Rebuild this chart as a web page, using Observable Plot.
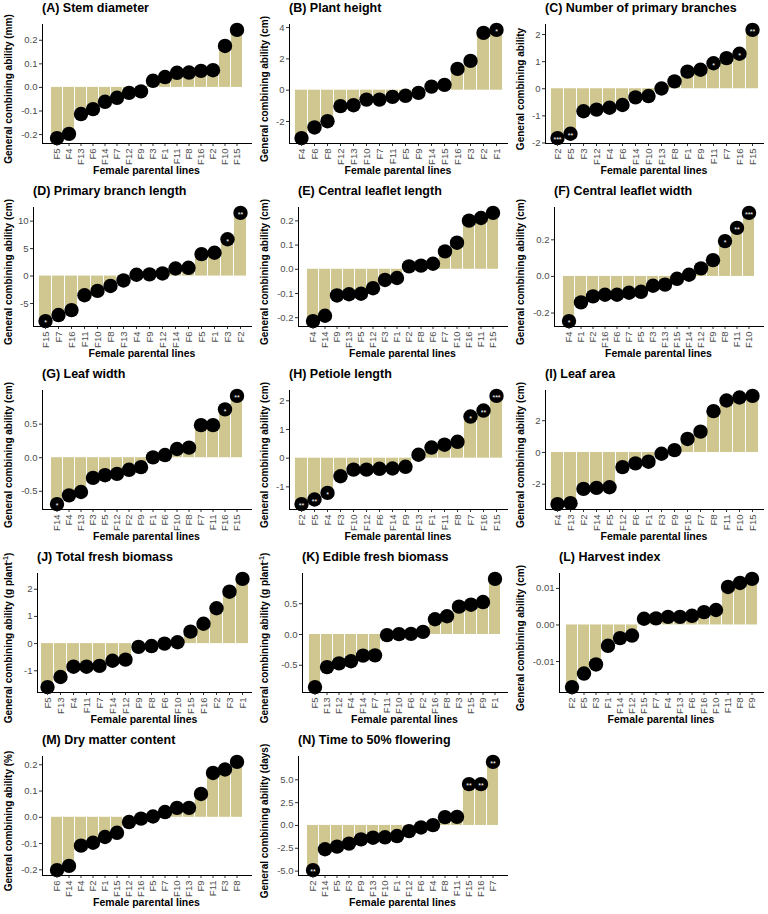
<!DOCTYPE html>
<html><head><meta charset="utf-8">
<script src="https://cdn.jsdelivr.net/npm/d3@7"></script>
<script src="https://cdn.jsdelivr.net/npm/@observablehq/plot@0.6"></script>
<style>
body{margin:0;background:#fff;font-family:"Liberation Sans",Arial,sans-serif;}
#grid{position:relative;width:768px;height:914px;overflow:hidden;}
.panel{position:absolute;width:256px;height:183px;overflow:hidden;}
.ttl{position:absolute;top:1px;font-weight:bold;font-size:12.5px;line-height:15px;color:#000;white-space:nowrap;}
.xl{position:absolute;top:164px;font-weight:bold;font-size:10.5px;line-height:13px;text-align:center;color:#000;}
.yl{position:absolute;left:9px;top:89px;transform:translate(-50%,-50%) rotate(-90deg);font-weight:bold;font-size:10px;line-height:12px;white-space:nowrap;color:#000;}
.yl sup{font-size:7px;vertical-align:4px;line-height:0;}
.svgwrap{position:absolute;top:18px;left:0;}
</style></head>
<body><div id="grid"></div>
<script>
// ---------- data ----------
const linesA = ["F5","F4","F13","F6","F14","F7","F12","F9","F3","F1","F11","F8","F16","F2","F10","F15"];
const gcaA = [-0.215,-0.197,-0.113,-0.092,-0.061,-0.044,-0.023,-0.017,0.028,0.044,0.062,0.063,0.070,0.073,0.176,0.244];
const sigA = [];
const ticksA = [-0.2,-0.1,0,0.1,0.2];
const tickLabelsA = ["-0.2","-0.1","0.0","0.1","0.2"];

const linesB = ["F4","F6","F8","F12","F13","F10","F7","F11","F5","F9","F14","F15","F16","F3","F2","F1"];
const gcaB = [-3.06,-2.38,-1.98,-1.02,-0.96,-0.60,-0.60,-0.43,-0.36,-0.17,0.23,0.34,1.36,1.87,3.66,3.85];
const sigB = [["F1","*"]];
const ticksB = [-2,0,2,4];
const tickLabelsB = ["-2","0","2","4"];

const linesC = ["F2","F5","F3","F12","F4","F6","F14","F10","F13","F8","F1","F9","F11","F7","F16","F15"];
const gcaC = [-1.82,-1.66,-0.83,-0.77,-0.70,-0.60,-0.32,-0.27,0.01,0.27,0.63,0.70,0.94,1.13,1.29,2.17];
const sigC = [["F2","***"],["F5","**"],["F11","*"],["F16","*"],["F15","**"]];
const ticksC = [-2,-1,0,1,2];
const tickLabelsC = ["-2","-1","0","1","2"];

const linesD = ["F15","F7","F16","F11","F10","F8","F13","F4","F9","F12","F14","F6","F5","F1","F3","F2"];
const gcaD = [-8.2,-7.1,-6.2,-3.5,-2.7,-1.8,-0.8,0.24,0.30,0.48,1.38,1.50,4.0,4.25,6.7,11.5];
const sigD = [["F15","*"],["F3","*"],["F2","**"]];
const ticksD = [-5,0,5,10];
const tickLabelsD = ["-5","0","5","10"];

const linesE = ["F4","F14","F9","F13","F5","F12","F3","F1","F2","F8","F6","F7","F10","F16","F11","F15"];
const gcaE = [-0.214,-0.192,-0.108,-0.103,-0.101,-0.078,-0.044,-0.036,0.012,0.015,0.023,0.074,0.110,0.201,0.212,0.233];
const sigE = [];
const ticksE = [-0.2,-0.1,0,0.1,0.2];
const tickLabelsE = ["-0.2","-0.1","0.0","0.1","0.2"];

const linesF = ["F4","F1","F2","F16","F6","F7","F5","F3","F13","F15","F14","F12","F9","F8","F11","F10"];
const gcaF = [-0.244,-0.142,-0.109,-0.100,-0.100,-0.089,-0.084,-0.051,-0.045,-0.013,0.009,0.044,0.089,0.193,0.265,0.347];
const sigF = [["F4","*"],["F8","*"],["F11","**"],["F10","***"]];
const ticksF = [-0.2,0,0.2];
const tickLabelsF = ["-0.2","0.0","0.2"];

const linesG = ["F14","F4","F13","F3","F5","F12","F2","F9","F1","F6","F10","F8","F7","F11","F16","F15"];
const gcaG = [-0.69,-0.56,-0.51,-0.30,-0.26,-0.24,-0.18,-0.14,0.005,0.04,0.13,0.15,0.485,0.485,0.72,0.92];
const sigG = [["F14","*"],["F16","*"],["F15","**"]];
const ticksG = [-0.5,0,0.5];
const tickLabelsG = ["-0.5","0.0","0.5"];

const linesH = ["F2","F5","F4","F3","F10","F12","F6","F14","F9","F13","F1","F11","F8","F7","F16","F15"];
const gcaH = [-1.60,-1.44,-1.21,-0.63,-0.40,-0.40,-0.37,-0.36,-0.30,0.12,0.37,0.47,0.57,1.45,1.66,2.17];
const sigH = [["F2","**"],["F5","**"],["F4","*"],["F7","*"],["F16","**"],["F15","***"]];
const ticksH = [-1,0,1,2];
const tickLabelsH = ["-1","0","1","2"];

const linesI = ["F4","F13","F2","F14","F5","F12","F6","F1","F3","F9","F16","F7","F8","F11","F10","F15"];
const gcaI = [-3.25,-3.19,-2.29,-2.23,-2.19,-0.92,-0.69,-0.58,-0.08,0.15,0.85,1.31,2.60,3.27,3.46,3.56];
const sigI = [];
const ticksI = [-2,0,2];
const tickLabelsI = ["-2","0","2"];

const linesJ = ["F5","F13","F4","F11","F7","F14","F12","F9","F8","F6","F10","F15","F16","F2","F3","F1"];
const gcaJ = [-1.60,-1.23,-0.85,-0.85,-0.82,-0.63,-0.59,-0.12,-0.09,0.0,0.05,0.44,0.73,1.30,1.91,2.38];
const sigJ = [];
const ticksJ = [-1,0,1,2];
const tickLabelsJ = ["-1","0","1","2"];

const linesK = ["F5","F13","F12","F4","F14","F7","F11","F10","F6","F2","F16","F8","F3","F15","F9","F1"];
const gcaK = [-0.855,-0.53,-0.47,-0.435,-0.344,-0.339,-0.01,0.005,0.01,0.043,0.247,0.296,0.452,0.484,0.527,0.903];
const sigK = [];
const ticksK = [-0.5,0,0.5];
const tickLabelsK = ["-0.5","0.0","0.5"];

const linesL = ["F2","F5","F3","F1","F14","F12","F15","F7","F4","F13","F6","F16","F10","F11","F8","F9"];
const gcaL = [-0.0170,-0.0133,-0.0108,-0.0057,-0.0036,-0.0029,0.0017,0.0018,0.0022,0.0022,0.0025,0.0035,0.0041,0.0104,0.0115,0.0126];
const sigL = [];
const ticksL = [-0.01,0,0.01];
const tickLabelsL = ["-0.01","0.00","0.01"];

const linesM = ["F6","F14","F4","F2","F1","F15","F12","F16","F5","F7","F10","F13","F9","F11","F3","F8"];
const gcaM = [-0.201,-0.185,-0.108,-0.097,-0.075,-0.059,-0.018,-0.005,0.003,0.020,0.036,0.036,0.089,0.169,0.182,0.211];
const sigM = [];
const ticksM = [-0.2,-0.1,0,0.1,0.2];
const tickLabelsM = ["-0.2","-0.1","0.0","0.1","0.2"];

const linesN = ["F2","F14","F5","F3","F9","F13","F10","F1","F12","F6","F4","F8","F11","F15","F16","F7"];
const gcaN = [-4.89,-2.61,-2.32,-1.99,-1.52,-1.34,-1.30,-1.16,-0.62,-0.22,0.04,0.91,0.94,4.53,4.53,6.96];
const sigN = [["F2","**"],["F15","**"],["F16","**"],["F7","**"]];
const ticksN = [-5,-2.5,0,2.5,5];
const tickLabelsN = ["-5.0","-2.5","0.0","2.5","5.0"];

const titles = ["(A) Stem diameter","(B) Plant height","(C) Number of primary branches","(D) Primary branch length","(E) Central leaflet length","(F) Central leaflet width","(G) Leaf width","(H) Petiole length","(I) Leaf area","(J) Total fresh biomass","(K) Edible fresh biomass","(L) Harvest index","(M) Dry matter content","(N) Time to 50% flowering"];
const yLabels = ["General combining ability (mm)","General combining ability (cm)","General combining ability","General combining ability (cm)","General combining ability (cm)","General combining ability (cm)","General combining ability (cm)","General combining ability (cm)","General combining ability (cm)","General combining ability (g plant<sup>-1</sup>)","General combining ability (g plant<sup>-1</sup>)","General combining ability (cm)","General combining ability (%)","General combining ability (days)"];
const xLabel = "Female parental lines";

const panels = [
  [linesA,gcaA,sigA,ticksA,tickLabelsA],[linesB,gcaB,sigB,ticksB,tickLabelsB],[linesC,gcaC,sigC,ticksC,tickLabelsC],
  [linesD,gcaD,sigD,ticksD,tickLabelsD],[linesE,gcaE,sigE,ticksE,tickLabelsE],[linesF,gcaF,sigF,ticksF,tickLabelsF],
  [linesG,gcaG,sigG,ticksG,tickLabelsG],[linesH,gcaH,sigH,ticksH,tickLabelsH],[linesI,gcaI,sigI,ticksI,tickLabelsI],
  [linesJ,gcaJ,sigJ,ticksJ,tickLabelsJ],[linesK,gcaK,sigK,ticksK,tickLabelsK],[linesL,gcaL,sigL,ticksL,tickLabelsL],
  [linesM,gcaM,sigM,ticksM,tickLabelsM],[linesN,gcaN,sigN,ticksN,tickLabelsN]
];

// ---------- drawing ----------
const BAR = "#cfc78f";
const grid = document.getElementById("grid");
const W = 256, SVGH = 165, MR = 5;

panels.forEach(([lines, vals, sig, ticks, tickLabels], k) => {
  const col = k % 3, row = Math.floor(k / 3);
  const sigMap = new Map(sig);
  const data = lines.map((l, i) => ({line: l, v: vals[i], s: sigMap.get(l) || ""}));
  const lo = Math.min(0, d3.min(vals)), hi = Math.max(0, d3.max(vals));
  const pad = (hi - lo) * 0.05;
  const labMap = new Map(ticks.map((t, i) => [t, tickLabels[i]]));
  const sup = yLabels[k].includes("<sup>") ? 4 : 0;
  const ml = Math.round(24 + 4.6 * d3.max(tickLabels, s => s.length)) + sup;

  const div = document.createElement("div");
  div.className = "panel";
  div.style.left = (col * W) + "px";
  div.style.top = (row * 183) + "px";

  const t = document.createElement("div");
  t.className = "ttl"; t.style.left = ml + "px"; t.textContent = titles[k];
  div.appendChild(t);

  const chart = Plot.plot({
    width: W, height: SVGH,
    marginLeft: ml, marginRight: MR, marginTop: 6, marginBottom: 40,
    style: {fontFamily: "'Liberation Sans', Arial, sans-serif", fontSize: "9.5px", color: "#4d4d4d", background: "transparent", overflow: "visible"},
    x: {domain: lines, paddingInner: 0.1, paddingOuter: 0.15, axis: null},
    y: {domain: [lo - pad, hi + pad], axis: null},
    marks: [
      Plot.barY(data, {x: "line", y: "v", fill: BAR}),
      Plot.dot(data, {x: "line", y: "v", r: 7.2, fill: "#000", stroke: "none"}),
      Plot.text(data.filter(d => d.s), {x: "line", y: "v", text: "s", fill: "#fff", fontSize: 7, dy: 2}),
      Plot.axisY({ticks: ticks, tickFormat: d => labMap.get(d), tickSize: 3, tickPadding: 2, label: null, stroke: "#333", fill: "#4d4d4d"}),
      Plot.axisX({tickRotate: -90, tickSize: 3, tickPadding: 2, label: null, stroke: "#333", fill: "#4d4d4d"}),
      Plot.frame({anchor: "left", stroke: "#000"}),
      Plot.frame({anchor: "bottom", stroke: "#000"})
    ]
  });
  const wrap = document.createElement("div");
  wrap.className = "svgwrap";
  wrap.appendChild(chart);
  div.appendChild(wrap);

  const xl = document.createElement("div");
  xl.className = "xl"; xl.style.left = ml + "px"; xl.style.width = (W - ml - MR) + "px";
  xl.textContent = xLabel;
  div.appendChild(xl);

  const yl = document.createElement("div");
  yl.className = "yl"; yl.innerHTML = yLabels[k];
  div.appendChild(yl);

  grid.appendChild(div);
});
</script>
</body></html>
